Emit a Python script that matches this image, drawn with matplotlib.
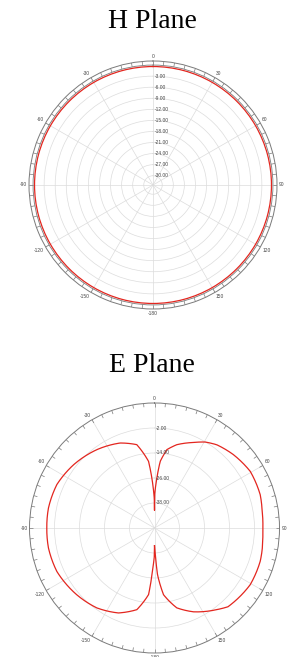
import numpy as np
import matplotlib.pyplot as plt

# ============================================================
# DATA
# ============================================================

# H plane: nearly omni, read every 30 deg
h_angles = [0, 30, 60, 90, 120, 150, 180, 210, 240, 270, 300, 330, 360]
h_gain = [-0.4, -0.4, -0.4, -0.4, -0.4, -0.4, -0.4, -0.4, -0.4, -0.4, -0.4, -0.4, -0.4]

# E plane (deg, dB)
e_angles = [-180, -179.5, -177.6, -174.9, -167.8, -157, -144.2, -130.6, -114,
            -100.7, -90, -79.3, -66, -52, -36.4, -22, -12, -5.1, -2.2, -0.4,
            0, 0.3, 2.7, 4.9, 9, 15, 24.5, 30.5, 36.8, 47, 59.4, 72.5, 81, 90,
            95, 107.5, 120.6, 137, 142.6, 155, 164.4, 172.3, 176.3, 178.4, 180]
e_gain = [-41.5, -36.0, -30.8, -17.9, -9.9, -5.7, -2.7, -0.8, 1.3,
          1.8, 1.7, 1.8, 1.3, -0.7, -3.3, -6.0, -9.1, -17.9, -29.2, -36.0,
          -41.5, -34.0, -26.0, -17.9, -11.9, -8.6, -4.9, -2.1, -0.1, 1.7, 3.4, 3.2, 2.3, 2.0,
          2.2, 3.2, 3.4, 1.7, -0.7, -5.6, -10.2, -17.7, -27.5, -38.8, -41.5]

theta_ticks = [0, 30, 60, 90, 120, 150, 180, 210, 240, 270, 300, 330]
theta_labels = ["0", "30", "60", "90", "120", "150",
                "-180", "-150", "-120", "-90", "-60", "-30"]

h_rings = [-30, -27, -24, -21, -18, -15, -12, -9, -6, -3]
h_ring_labels = ["-30.00", "-27.00", "-24.00", "-21.00", "-18.00",
                 "-15.00", "-12.00", "-9.00", "-6.00", "-3.00"]

e_rings = [-38, -26, -14, -2]
e_ring_labels = ["-38.00", "-26.00", "-14.00", "-2.00"]

# ============================================================
# STYLE
# ============================================================

W, H = 289, 657
RED = "#e3261f"
RING = "#7a7a7a"
GRID = "#dcdcdc"
TXT = "#444444"
SMALL = 3.5
FONT = "Liberation Sans"

fig = plt.figure(figsize=(W / 100, H / 100), dpi=100)


def make_axes(cx, cy, rad, rmin, rmax):
    ax = fig.add_axes([(cx - rad) / W, (H - cy - rad) / H, 2 * rad / W, 2 * rad / H],
                      projection="polar")
    ax.set_theta_zero_location("N")
    ax.set_theta_direction(-1)
    ax.set_rlim(rmin, rmax)
    ax.spines["polar"].set_color(RING)
    ax.spines["polar"].set_linewidth(0.7)
    ax.grid(True, color=GRID, linewidth=0.5)
    ax.set_thetagrids(theta_ticks, [])

    # angle labels just outside the rim
    gap = 1.5
    for deg, lbl in zip(theta_ticks, theta_labels):
        s, c = np.sin(np.deg2rad(deg)), np.cos(np.deg2rad(deg))
        ha = "left" if s > 0.3 else ("right" if s < -0.3 else "center")
        va = "bottom" if c > 0.3 else ("top" if c < -0.3 else "center")
        ax.annotate(lbl, xy=(np.deg2rad(deg), rmax), xytext=(gap * s, gap * c),
                    textcoords="offset points", ha=ha, va=va, fontsize=SMALL,
                    color=TXT, family=FONT, annotation_clip=False)
    return ax


def ring_labels(ax, rings, labels):
    ax.set_rticks(rings)
    ax.set_yticklabels([])
    for r, lbl in zip(rings, labels):
        ax.annotate(lbl, xy=(0, r), xytext=(1, 0), textcoords="offset points",
                    fontsize=SMALL, ha="left", va="center", color=TXT, family=FONT)


def polar_line(ax, ang, val, **kw):
    # follow arcs / spirals between the read points instead of chords
    line, = ax.plot(np.deg2rad(ang), val, **kw)
    line.get_path()._interpolation_steps = 40
    return line


tick_theta = np.deg2rad(np.arange(0, 360, 5))

# ============================================================
# H PLANE
# ============================================================

fig.text(152 / W, 1 - 28.5 / H, "H Plane", ha="center", va="baseline",
         fontsize=20, family="Liberation Serif")

ax1 = make_axes(153, 185, 124, -32.5, 1.1)
ring_labels(ax1, h_rings, h_ring_labels)
polar_line(ax1, [0, 90, 180, 270, 360], [0, 0, 0, 0, 0], color=RING, linewidth=0.6)
ax1.vlines(tick_theta, 0, 1.1, color=RING, linewidth=0.5)
polar_line(ax1, h_angles, h_gain, color=RED, linewidth=0.9)

# ============================================================
# E PLANE
# ============================================================

fig.text(152 / W, 1 - 372.5 / H, "E Plane", ha="center", va="baseline",
         fontsize=20, family="Liberation Serif")

ax2 = make_axes(154.5, 528, 125, -50, 10)
ring_labels(ax2, e_rings, e_ring_labels)
ax2.vlines(tick_theta, 8.2, 10, color=RING, linewidth=0.5)
polar_line(ax2, e_angles, e_gain, color=RED, linewidth=0.9)

fig.savefig("out.png", dpi=100)
